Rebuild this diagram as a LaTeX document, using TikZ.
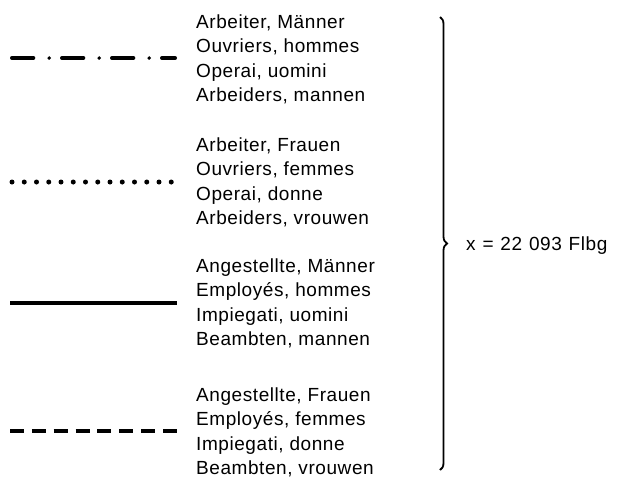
\documentclass[tikz,border=0pt]{standalone}
\usepackage{fontspec}
\setmainfont[LetterSpace=3]{Liberation Sans}
\usetikzlibrary{decorations.pathreplacing}
\begin{document}
\begin{tikzpicture}[x=1pt, y=-1pt,
  every node/.style={inner sep=0pt, anchor=base west, font=\fontsize{19}{22}\selectfont},
  legline/.style={line width=3.8pt, black}]
\useasboundingbox (0,0) rectangle (621,480);
% Arbeiter, Maenner
\draw [legline, line cap=round, dash pattern=on 21.5pt off 15.75pt on 0pt off 12.75pt] (11.9,58) -- (175.1,58);
\node (arbM1) at (196,28) {Arbeiter, Männer};
\node (arbM2) at (196,52.5) {Ouvriers, hommes};
\node (arbM3) at (196,77) {Operai, uomini};
\node (arbM4) at (196,101.5) {Arbeiders, mannen};
% Arbeiter, Frauen
\draw [legline, line width=5pt, line cap=round, dash pattern=on 0pt off 12.25pt] (12,182) -- (172,182);
\node (arbF1) at (196,151) {Arbeiter, Frauen};
\node (arbF2) at (196,175.5) {Ouvriers, femmes};
\node (arbF3) at (196,200) {Operai, donne};
\node (arbF4) at (196,224.5) {Arbeiders, vrouwen};
% Angestellte, Maenner
\draw [legline] (10,303) -- (177,303);
\node (angM1) at (196,272) {Angestellte, Männer};
\node (angM2) at (196,296.5) {Employés, hommes};
\node (angM3) at (196,321) {Impiegati, uomini};
\node (angM4) at (196,345.5) {Beambten, mannen};
% Angestellte, Frauen
\draw [legline, dash pattern=on 14pt off 7.86pt] (10,431) -- (177,431);
\node (angF1) at (196,401) {Angestellte, Frauen};
\node (angF2) at (196,425.5) {Employés, femmes};
\node (angF3) at (196,450) {Impiegati, donne};
\node (angF4) at (196,474.5) {Beambten, vrouwen};
% brace
\draw [line width=1.8pt, decorate, decoration={brace, amplitude=7pt}] (440,17) -- (440,470);
\node (total) at (466,250) {\spaceskip=0.36em\relax x = 22 093 Flbg};
\end{tikzpicture}
\end{document}
